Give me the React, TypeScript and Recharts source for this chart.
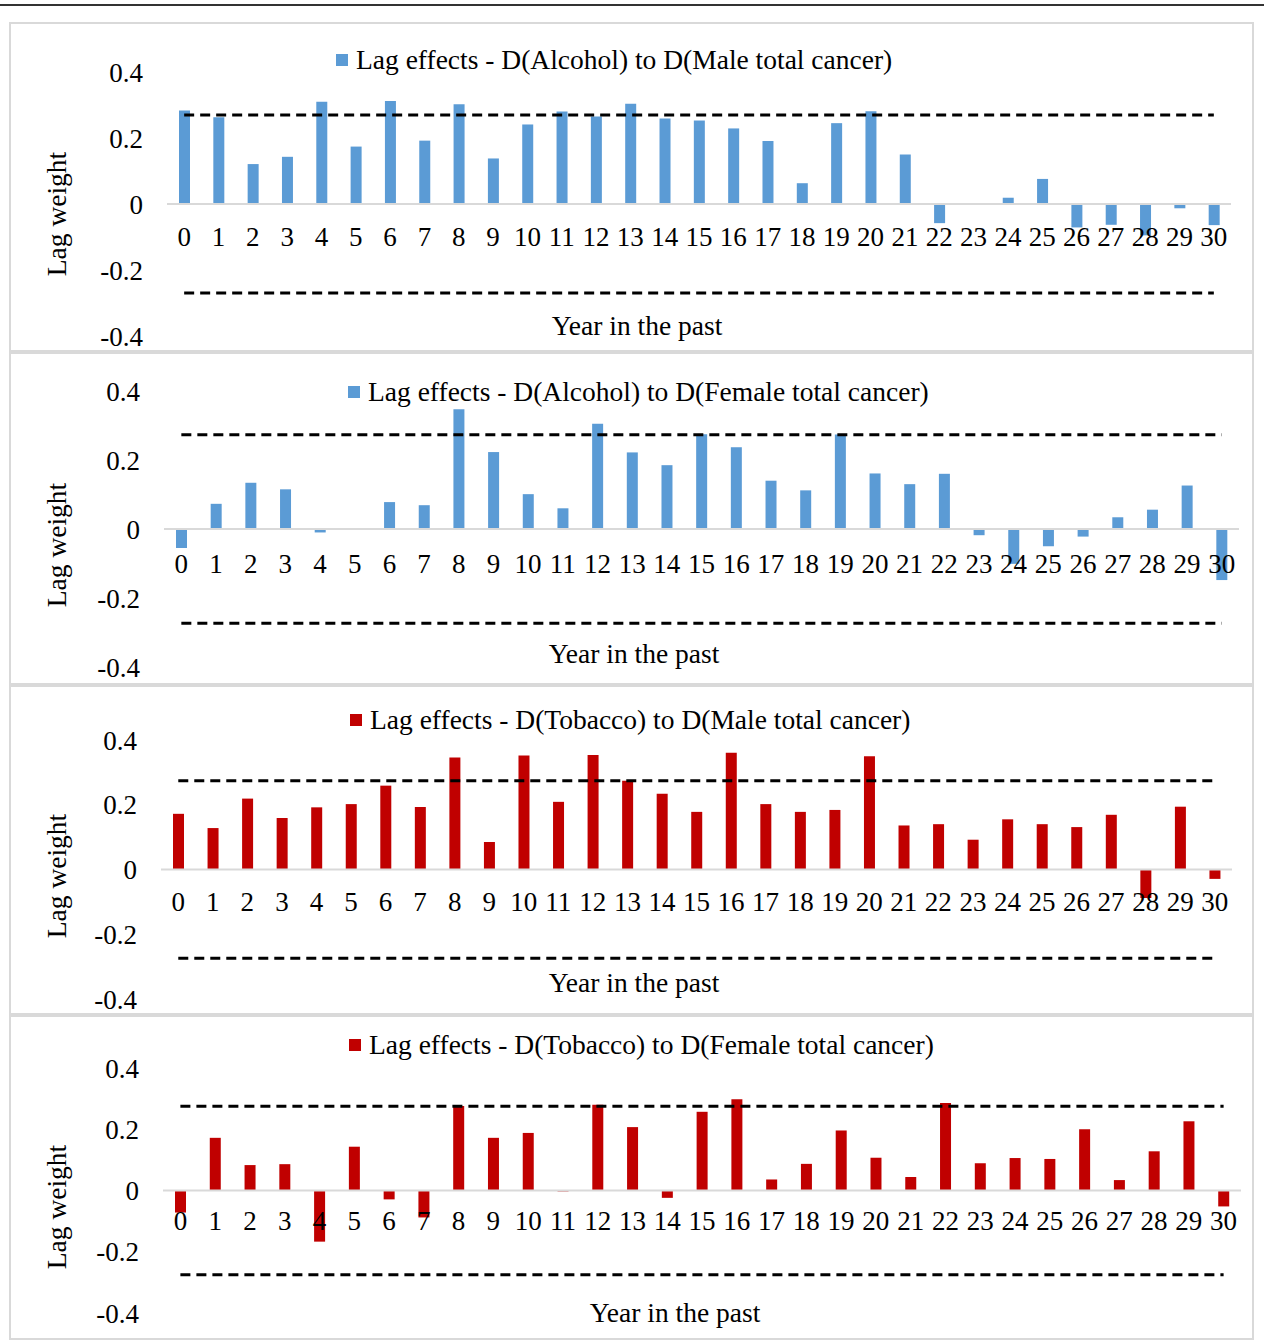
import { Bar, ComposedChart, Legend, Line, ReferenceLine, XAxis, YAxis } from "recharts";

const years = [
  "0", "1", "2", "3", "4", "5", "6", "7", "8", "9", "10", "11", "12", "13", "14", "15",
  "16", "17", "18", "19", "20", "21", "22", "23", "24", "25", "26", "27", "28", "29", "30",
];

const alcoholMale = [
  0.283, 0.263, 0.121, 0.143, 0.31, 0.174, 0.312, 0.192, 0.302, 0.138, 0.241, 0.28, 0.265, 0.304,
  0.259, 0.253, 0.229, 0.191, 0.063, 0.245, 0.281, 0.15, -0.058, -0.003, 0.019, 0.076, -0.071,
  -0.063, -0.095, -0.013, -0.064,
];
const alcoholFemale = [
  -0.055, 0.073, 0.134, 0.115, -0.01, 0, 0.078, 0.069, 0.347, 0.223, 0.101, 0.06, 0.305, 0.222,
  0.185, 0.275, 0.237, 0.14, 0.112, 0.274, 0.161, 0.13, 0.16, -0.018, -0.101, -0.05, -0.022, 0.034,
  0.056, 0.126, -0.148,
];
const tobaccoMale = [
  0.172, 0.128, 0.219, 0.159, 0.192, 0.202, 0.259, 0.193, 0.346, 0.085, 0.352, 0.209, 0.354, 0.274,
  0.234, 0.178, 0.361, 0.202, 0.178, 0.184, 0.35, 0.136, 0.14, 0.092, 0.155, 0.14, 0.131, 0.169,
  -0.088, 0.194, -0.029,
];
const tobaccoFemale = [
  -0.072, 0.172, 0.083, 0.086, -0.167, 0.143, -0.029, -0.088, 0.276, 0.172, 0.188, -0.003, 0.28,
  0.207, -0.024, 0.257, 0.298, 0.036, 0.087, 0.196, 0.107, 0.044, 0.286, 0.089, 0.106, 0.103, 0.2,
  0.034, 0.128, 0.226, -0.052,
];

// significance bounds (dashed lines) per panel
const bounds = [0.27, 0.273, 0.274, 0.275];
const seriesNames = [
  "Lag effects - D(Alcohol) to D(Male total cancer)",
  "Lag effects - D(Alcohol) to D(Female total cancer)",
  "Lag effects - D(Tobacco) to D(Male total cancer)",
  "Lag effects - D(Tobacco) to D(Female total cancer)",
];
const yTicks = [-0.4, -0.2, 0, 0.2, 0.4];

const BLUE = "#5b9bd5";
const RED = "#c00000";
const FONT = '"Liberation Serif", "Times New Roman", serif';
const W = 1264;
const X_AXIS_H = 10;

const panels = [
  { values: alcoholMale, color: BLUE, top: 22, height: 330, margin: { top: 50, bottom: 6, left: 107, right: 33 }, legend: { left: 336, top: 23 }, xTitle: { x: 637, y: 304 }, yTitleY: 192 },
  { values: alcoholFemale, color: BLUE, top: 352, height: 333, margin: { top: 39, bottom: 8, left: 104, right: 25 }, legend: { left: 348, top: 25 }, xTitle: { x: 634, y: 302 }, yTitleY: 193 },
  { values: tobaccoMale, color: RED, top: 685, height: 330, margin: { top: 55, bottom: 6, left: 101, right: 32 }, legend: { left: 350, top: 20 }, xTitle: { x: 634, y: 298 }, yTitleY: 191 },
  { values: tobaccoFemale, color: RED, top: 1015, height: 325, margin: { top: 53, bottom: 17, left: 103, right: 23 }, legend: { left: 349, top: 15 }, xTitle: { x: 675, y: 298 }, yTitleY: 192 },
];

function Panel({ index }: { index: number }) {
  const p = panels[index];
  const bound = bounds[index];
  const data = years.map((year, i) => ({
    year,
    value: p.values[i],
    upper: bound,
    lower: -bound,
  }));
  const plotH = p.height - p.margin.top - p.margin.bottom - X_AXIS_H;
  const zeroY = p.margin.top + plotH / 2;
  const step = plotH / 8;

  const renderXTick = (props: any) => (
    <text
      x={props.x}
      y={zeroY + step}
      textAnchor="middle"
      dominantBaseline="central"
      fontFamily={FONT}
      fontSize={27}
      fill="#000"
    >
      {props.payload.value}
    </text>
  );

  const renderLegend = () => (
    <div style={{ display: "flex", alignItems: "center", height: 30, lineHeight: "30px", fontFamily: FONT, fontSize: 27.5, color: "#000", whiteSpace: "nowrap" }}>
      <span style={{ display: "inline-block", width: 12, height: 12, background: p.color, marginRight: 8 }} />
      <span>{seriesNames[index]}</span>
    </div>
  );

  return (
    <div
      style={{
        position: "absolute",
        left: 0,
        top: p.top,
        width: W,
        height: p.height,
      }}
    >
      <div
        style={{
          position: "absolute",
          left: 9,
          top: 0,
          width: 1245,
          height: p.height,
          border: "2px solid #d9d9d9",
          boxSizing: "border-box",
        }}
      />
      <ComposedChart width={W} height={p.height} data={data} margin={p.margin} barCategoryGap={0}>
        <XAxis
          dataKey="year"
          height={X_AXIS_H}
          axisLine={false}
          tickLine={false}
          interval={0}
          tick={renderXTick}
        />
        <YAxis
          width={60}
          domain={[-0.4, 0.4]}
          ticks={yTicks}
          allowDataOverflow
          axisLine={false}
          tickLine={false}
          tickSize={0}
          tickMargin={24}
          tickFormatter={(v: number) => (v === 0 ? "0" : v.toFixed(1))}
          tick={{ fontFamily: FONT, fontSize: 27, fill: "#000" }}
        />
        <ReferenceLine y={0} stroke="#d9d9d9" strokeWidth={2} />
        <Bar dataKey="value" name={seriesNames[index]} fill={p.color} barSize={11} isAnimationActive={false} />
        <Line dataKey="upper" stroke="#000" strokeWidth={3} strokeDasharray="10 6" dot={false} activeDot={false} legendType="none" isAnimationActive={false} />
        <Line dataKey="lower" stroke="#000" strokeWidth={3} strokeDasharray="10 6" dot={false} activeDot={false} legendType="none" isAnimationActive={false} />
        <Legend
          layout="vertical"
          align="center"
          verticalAlign="middle"
          content={renderLegend}
          wrapperStyle={{ left: p.legend.left, top: p.legend.top, width: "auto", height: "auto" }}
        />
      </ComposedChart>
      <div
        style={{
          position: "absolute",
          left: p.xTitle.x,
          top: p.xTitle.y,
          transform: "translate(-50%, -50%)",
          fontFamily: FONT,
          fontSize: 27.5,
          color: "#000",
          whiteSpace: "nowrap",
        }}
      >
        Year in the past
      </div>
      <div
        style={{
          position: "absolute",
          left: 57,
          top: p.yTitleY,
          transform: "translate(-50%, -50%) rotate(-90deg)",
          fontFamily: FONT,
          fontSize: 27.5,
          color: "#000",
          whiteSpace: "nowrap",
        }}
      >
        Lag weight
      </div>
    </div>
  );
}

export default function App() {
  return (
    <div style={{ position: "absolute", left: 0, top: 0, width: W, height: 1340, background: "#fff", overflow: "hidden" }}>
      <div style={{ position: "absolute", left: 0, top: 4, width: W, height: 2, background: "#333" }} />
      {panels.map((_, i) => (
        <Panel key={i} index={i} />
      ))}
    </div>
  );
}
